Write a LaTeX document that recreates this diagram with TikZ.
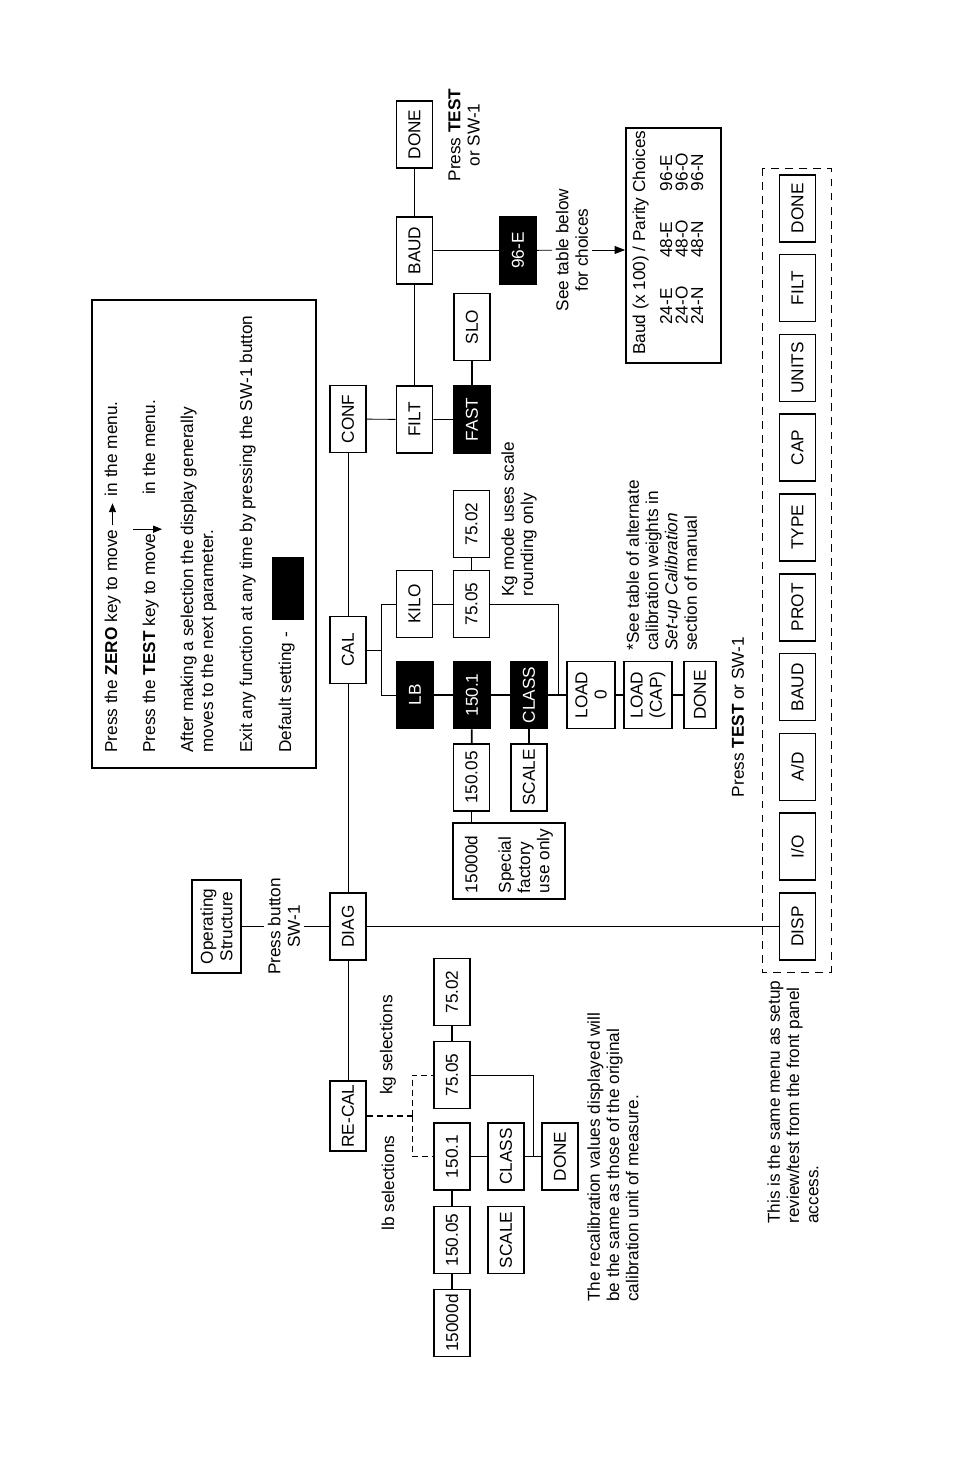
\documentclass[tikz,border=0pt]{standalone}
\usepackage{fontspec}
\setmainfont{Liberation Sans}
\usetikzlibrary{positioning,arrows.meta,calc}

\begin{document}
\begin{tikzpicture}[
    x=0.02cm, y=-0.02cm,
    font=\fontsize{9.8}{11}\selectfont,
    box/.style={
        draw,
        line width=1pt,
        rotate=90,
        minimum width=1.34cm,
        minimum height=0.72cm,
        inner sep=2pt,
        align=center
    },
    dark/.style={box, fill=black, text=white},
    link/.style={line width=0.5pt},
    heavy/.style={line width=1pt},
    recaldash/.style={dash pattern=on 3.4pt off 2.3pt},
    note/.style={rotate=90, align=left, inner sep=0pt, anchor=north west},
    textline/.style={rotate=90, inner sep=0pt, anchor=base west},
    caption/.style={rotate=90, align=center, inner sep=2pt},
    tip/.style={-{Triangle[length=5pt,width=4pt]}}
]
\useasboundingbox (0,0) rectangle (954,1474);

% legend
\node[draw, line width=1pt, minimum width=4.48cm, minimum height=9.36cm] (legend) at (204,534) {};
\node[textline] (leg1a) at (117,753) {Press the \textbf{ZERO} key to move};
\node[textline] (leg1b) at ($(leg1a.base east)+(0,-33)$) {in the menu.};
\node[textline] (leg2a) at (155,753) {Press the \textbf{TEST} key to move};
\node[textline] (leg2b) at ($(leg2a.base east)+(0,-38)$) {in the menu.};
\node[textline] (leg3a) at (193,753) {After making a selection the display generally};
\node[textline] (leg3b) at (213,753) {moves to the next parameter.};
\node[textline] (leg4) at (252,753) {Exit any function at any time by pressing the SW-1 button};
\node[textline] (leg5) at (291,753) {Default setting -};
\node[fill=black, inner sep=0pt, minimum width=0.64cm, minimum height=1.26cm] (swatch) at (288,588.5) {};
\draw[link, tip] ($(leg1a.base east)+(-4.5,-4)$) -- ($(leg1b.base west)+(-4.5,7)$);
\draw[link, tip] ($(leg2a.base east)+(-22,-4)$) -- ($(leg2a.base east)+(7,-4)$);

% main spine
\node[box, minimum width=1.86cm, minimum height=0.98cm] (opstruct) at (216.5,926.5) {Operating\\Structure};
\node[caption] (pressbtn) at (284,926.5) {Press button\\SW-1};
\node[box] (diag) at (348,926.5) {DIAG};
\node[box] (cal) at (348,650) {CAL};
\node[box] (conf) at (348,419) {CONF};
\node[box] (recal) at (348,1116) {RE-CAL};
\draw[link] (opstruct) -- (pressbtn) -- (diag);
\draw[link] (conf) -- (cal) -- (diag) -- (recal);

% CONF branch
\node[box] (filt) at (414.5,419.5) {FILT};
\node[dark] (fast) at (472,419.5) {FAST};
\node[box] (slo) at (472,327) {SLO};
\node[box] (baud) at (414.5,250.5) {BAUD};
\node[box] (confdone) at (414.5,134.5) {DONE};
\node[caption] (presstest) at (464,135) {Press \textbf{TEST}\\or SW-1};
\node[dark] (e96) at (518,250.5) {96-E};
\node[caption] (seetable) at (572,250) {See table below\\for choices};
\node[draw, line width=1pt, rotate=90, minimum width=4.7cm, minimum height=1.9cm] (baudtab) at (673.5,245.5) {};
\node[textline] (baudhead) at (645,355) {Baud (x 100) / Parity Choices};
\node[textline] (baudrowE) at (672,325) {\makebox[38pt][l]{24-E}\makebox[38pt][l]{48-E}96-E};
\node[textline] (baudrowO) at (687.5,325) {\makebox[38pt][l]{24-O}\makebox[38pt][l]{48-O}96-O};
\node[textline] (baudrowN) at (703,325) {\makebox[38pt][l]{24-N}\makebox[38pt][l]{48-N}96-N};
\draw[link] (conf) -- (filt) -- (fast);
\draw[heavy] (fast) -- (slo);
\draw[link] (filt) -- (baud) -- (confdone);
\draw[link] (baud) -- (e96) -- (seetable);
\draw[link, -{Triangle[length=6pt,width=4.5pt]}] (seetable) -- (seetable -| baudtab.north);

% CAL branch
\coordinate (calfork) at (381,650);
\coordinate (calmerge) at (558,695);
\node[dark] (lb) at (415,695) {LB};
\node[box] (kilo) at (414.5,604) {KILO};
\node[dark] (cal1501) at (472,695) {150.1};
\node[dark] (calclass) at (529,695) {CLASS};
\node[box, minimum height=0.96cm] (load0) at (591,695) {LOAD\\0};
\node[box, minimum height=0.96cm] (loadcap) at (648,695) {LOAD\\(CAP)};
\node[box, minimum height=0.64cm] (caldone) at (700,695) {DONE};
\node[box] (cal7505) at (471.5,604) {75.05};
\node[box] (cal7502) at (471.5,524) {75.02};
\node[box] (cal15005) at (471.5,777.5) {150.05};
\node[box] (calscale) at (529,777.5) {SCALE};
\node[box, align=left, minimum width=1.52cm, minimum height=2.24cm] (factory) at (509,861) {15000d\\[8pt]Special\\factory\\use only};
\draw[link] (cal) -- (calfork) |- (lb);
\draw[link] (calfork) |- (kilo);
\draw[heavy] (lb) -- (cal1501) -- (calclass) -- (load0) -- (loadcap) -- (caldone);
\draw[link] (kilo) -- (cal7505);
\draw[heavy] (cal7505) -- (cal7502);
\draw[link] (cal7505) -| (calmerge);
\draw[heavy] (cal1501) -- (cal15005);
\draw[heavy] (cal15005) -- (cal15005 |- factory.east);
\draw[heavy] (calclass) -- (calscale);
\node[note] (kgnote) at (501,597) {Kg mode uses scale\\rounding only};
\node[note] (calnote) at (626,651) {*See table of alternate\\calibration weights in\\\textit{Set-up Calibration}\\section of manual};

% RE-CAL branch
\coordinate (recalfork) at (412,1116);
\coordinate (rcmerge) at (533,1156.5);
\node[box] (rc7505) at (452,1075) {75.05};
\node[box] (rc7502) at (452,992) {75.02};
\node[box] (rc1501) at (452,1156.5) {150.1};
\node[box] (rc15005) at (452,1240) {150.05};
\node[box] (rc15000) at (452,1323) {15000d};
\node[box] (rcclass) at (506,1156.5) {CLASS};
\node[box] (rcscale) at (506,1240) {SCALE};
\node[box] (rcdone) at (560,1156.5) {DONE};
\draw[heavy, recaldash] (recal) -- (recalfork);
\draw[link, recaldash] (recalfork) |- (rc7505);
\draw[link, recaldash] (recalfork) |- (rc1501);
\draw[heavy] (rc7505) -- (rc7502);
\draw[heavy] (rc1501) -- (rc15005) -- (rc15000);
\draw[link] (rc1501) -- (rcclass) -- (rcdone);
\draw[link] (rc7505) -| (rcmerge);
\node[caption] (kgsel) at (388,1045) {kg selections};
\node[caption] (lbsel) at (388,1183) {lb selections};
\node[note] (recalnote) at (587,1302) {The recalibration values displayed will\\be the same as those of the original\\calibration unit of measure.};

% DIAG menu
\draw[link, dash pattern=on 4.5pt off 3.5pt] (762,168) rectangle (831,972);
\foreach \nm/\lbl [count=\i from 0] in {disp/DISP, io/{I/O}, ad/{A/D}, dbaud/BAUD, prot/PROT, type/TYPE, cap/CAP, units/UNITS, dfilt/FILT, ddone/DONE}
    \node[box] (\nm) at (797.5,{926.5-79.8*\i}) {\lbl};
\draw[link] (diag) -- (disp);
\node[caption] (presstest2) at (738,717) {Press \textbf{TEST} or SW-1};
\node[note] (samemenu) at (767,1224) {This is the same menu as setup\\review/test from the front panel\\access.};

\end{tikzpicture}
\end{document}
